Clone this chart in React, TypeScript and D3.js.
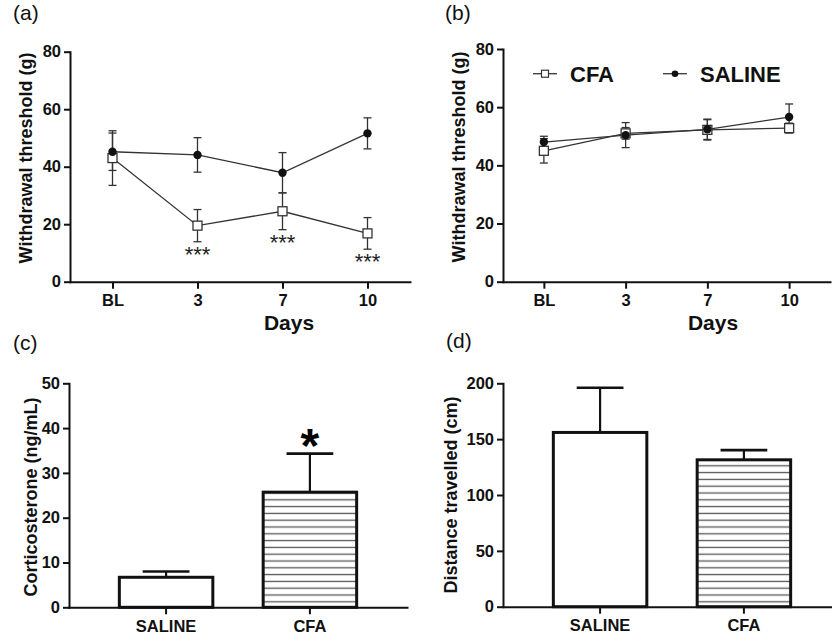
import React, { useEffect, useRef } from 'react';
import * as d3 from 'd3';

// time points for the von Frey panels
const days = ['BL', '3', '7', '10'];
const thresholdTicks = [0, 20, 40, 60, 80];

// panel (a)
const cfaThresholdA = [43, 19.5, 24.5, 16.8];
const cfaThresholdErrA = [9.5, 5.6, 6.4, 5.5];
const salineThresholdA = [45.2, 44.1, 37.9, 51.6];
const salineThresholdErrA = [6.5, 6, 7, 5.4];
const starsA = ['', '***', '***', '***'];

// panel (b)
const cfaThresholdB = [45, 51, 52.2, 52.8];
const cfaThresholdErrB = [4.2, 2, 3.5, 1.7];
const salineThresholdB = [48, 50.4, 52.4, 56.6];
const salineThresholdErrB = [2, 4.3, 3.5, 4.5];

// panels (c) and (d)
const groups = ['SALINE', 'CFA'];
const corticosterone = [6.7, 25.7];
const corticosteroneErr = [1.3, 8.6];
const corticosteroneStars = ['', '*'];
const corticosteroneTicks = [0, 10, 20, 30, 40, 50];
const distance = [156, 131.5];
const distanceErr = [40, 8.7];
const distanceTicks = [0, 50, 100, 150, 200];

const FONT = '"Liberation Sans", Arial, Helvetica, sans-serif';

const styleAxis = (g, fontSize = 16.5) => {
  g.attr('font-family', FONT).attr('font-size', fontSize).attr('font-weight', 'bold');
  g.select('.domain').attr('stroke', '#111').attr('stroke-width', 2).attr('stroke-linecap', 'square');
  g.selectAll('.tick line').attr('stroke', '#111').attr('stroke-width', 2);
  g.selectAll('.tick text').attr('fill', '#111');
};

const drawLinePanel = (svg, o) => {
  const y = d3.scaleLinear().domain([0, 80]).range([o.bottom, o.top]);
  const x = d3.scalePoint().domain(days).range([o.left, o.right]).padding(0.5);
  const g = svg.append('g');

  const series = [
    { mean: o.cfa, err: o.cfaErr, marker: 'square' },
    { mean: o.saline, err: o.salineErr, marker: 'circle' },
  ];

  const line = d3.line()
    .x((d, i) => x(days[i]))
    .y(d => y(d));

  series.forEach(s => {
    g.append('path')
      .datum(s.mean)
      .attr('fill', 'none')
      .attr('stroke', '#333')
      .attr('stroke-width', 1.3)
      .attr('d', line);
  });

  series.forEach(s => {
    s.mean.forEach((m, i) => {
      const cx = x(days[i]);
      const y1 = y(m + s.err[i]);
      const y2 = y(m - s.err[i]);
      g.append('line').attr('x1', cx).attr('x2', cx).attr('y1', y1).attr('y2', y2)
        .attr('stroke', '#333').attr('stroke-width', 1.3);
      [y1, y2].forEach(yy => {
        g.append('line').attr('x1', cx - 4).attr('x2', cx + 4).attr('y1', yy).attr('y2', yy)
          .attr('stroke', '#333').attr('stroke-width', 1.3);
      });
    });
  });

  series.forEach(s => {
    s.mean.forEach((m, i) => {
      const cx = x(days[i]);
      if (s.marker === 'circle') {
        g.append('circle').attr('cx', cx).attr('cy', y(m)).attr('r', 4.2).attr('fill', '#111');
      } else {
        g.append('rect').attr('x', cx - 4.5).attr('y', y(m) - 4.5).attr('width', 9).attr('height', 9)
          .attr('fill', 'white').attr('stroke', '#333').attr('stroke-width', 1.3);
      }
    });
  });

  if (o.stars) {
    o.stars.forEach((s, i) => {
      if (!s) return;
      const lo = Math.min(o.cfa[i] - o.cfaErr[i], o.saline[i] - o.salineErr[i]);
      g.append('text')
        .attr('x', x(days[i]))
        .attr('y', y(lo) + 20)
        .attr('text-anchor', 'middle')
        .attr('font-family', FONT)
        .attr('font-size', 22)
        .attr('fill', '#222')
        .text(s);
    });
  }

  g.append('g')
    .attr('transform', `translate(${o.left},0)`)
    .call(d3.axisLeft(y).tickValues(thresholdTicks).tickSize(6).tickPadding(3).tickSizeOuter(0))
    .call(a => styleAxis(a));

  g.append('g')
    .attr('transform', `translate(0,${o.bottom})`)
    .call(d3.axisBottom(x).tickSize(7).tickPadding(6).tickSizeOuter(0))
    .call(a => styleAxis(a));

  g.append('text')
    .attr('transform', `translate(${o.yLabelX},${o.yLabelY}) rotate(-90)`)
    .attr('text-anchor', 'middle')
    .attr('font-family', FONT).attr('font-size', 18).attr('font-weight', 'bold').attr('fill', '#111')
    .text('Withdrawal threshold (g)');

  g.append('text')
    .attr('x', o.daysX).attr('y', o.daysY)
    .attr('text-anchor', 'middle')
    .attr('font-family', FONT).attr('font-size', 21).attr('font-weight', 'bold').attr('fill', '#111')
    .text('Days');

  if (o.legend) {
    const ly = y(o.legendValue);
    const lg = g.append('g');
    const items = [
      { label: 'CFA', x0: o.legendX[0], marker: 'square' },
      { label: 'SALINE', x0: o.legendX[1], marker: 'circle' },
    ];
    items.forEach(it => {
      lg.append('line').attr('x1', it.x0).attr('x2', it.x0 + 24).attr('y1', ly).attr('y2', ly)
        .attr('stroke', '#333').attr('stroke-width', 1.3);
      if (it.marker === 'square') {
        lg.append('rect').attr('x', it.x0 + 12 - 3.5).attr('y', ly - 3.5).attr('width', 7).attr('height', 7)
          .attr('fill', 'white').attr('stroke', '#333').attr('stroke-width', 1.2);
      } else {
        lg.append('circle').attr('cx', it.x0 + 12).attr('cy', ly).attr('r', 3.3).attr('fill', '#111');
      }
      lg.append('text')
        .attr('x', it.x0 + 37).attr('y', ly + 8)
        .attr('font-family', FONT).attr('font-size', 22).attr('font-weight', 'bold').attr('fill', '#111')
        .text(it.label);
    });
  }
};

const drawBarPanel = (svg, o) => {
  const y = d3.scaleLinear().domain([0, o.ticks[o.ticks.length - 1]]).range([o.bottom, o.top]);
  const x = d3.scaleBand().domain(groups).range([o.left, o.right]).paddingInner(0.35).paddingOuter(0.35);
  const g = svg.append('g');
  const bw = x.bandwidth();

  o.values.forEach((v, i) => {
    const cx = x(groups[i]) + bw / 2;
    const top = y(v + o.errs[i]);
    g.append('line').attr('x1', cx).attr('x2', cx).attr('y1', y(v)).attr('y2', top)
      .attr('stroke', '#111').attr('stroke-width', 2.2);
    g.append('line').attr('x1', cx - bw / 4).attr('x2', cx + bw / 4).attr('y1', top).attr('y2', top)
      .attr('stroke', '#111').attr('stroke-width', 2.6);
  });

  g.selectAll('rect.bar')
    .data(o.values)
    .join('rect')
    .attr('class', 'bar')
    .attr('x', (d, i) => x(groups[i]))
    .attr('y', d => y(d))
    .attr('width', bw)
    .attr('height', d => o.bottom - y(d))
    .attr('fill', (d, i) => (i === 1 ? 'url(#hatch)' : 'white'))
    .attr('stroke', '#111')
    .attr('stroke-width', 3);

  if (o.stars) {
    o.stars.forEach((s, i) => {
      if (!s) return;
      g.append('text')
        .attr('x', x(groups[i]) + bw / 2)
        .attr('y', y(o.values[i] + o.errs[i]) + 8)
        .attr('text-anchor', 'middle')
        .attr('font-family', FONT).attr('font-size', 48).attr('font-weight', 'bold').attr('fill', '#000')
        .text(s);
    });
  }

  g.append('g')
    .attr('transform', `translate(${o.left},0)`)
    .call(d3.axisLeft(y).tickValues(o.ticks).tickSize(6).tickPadding(3).tickSizeOuter(0))
    .call(a => styleAxis(a));

  g.append('g')
    .attr('transform', `translate(0,${o.bottom})`)
    .call(d3.axisBottom(x).tickSize(7).tickPadding(6).tickSizeOuter(0))
    .call(a => styleAxis(a, 16.5));

  g.append('text')
    .attr('transform', `translate(${o.yLabelX},${o.yLabelY}) rotate(-90)`)
    .attr('text-anchor', 'middle')
    .attr('font-family', FONT).attr('font-size', 18).attr('font-weight', 'bold').attr('fill', '#111')
    .text(o.yLabel);
};

const App = () => {
  const svgRef = useRef(null);

  useEffect(() => {
    const svg = d3.select(svgRef.current);
    svg.selectAll('*').remove();

    // horizontal hatch for the CFA bars
    const pattern = svg.append('defs').append('pattern')
      .attr('id', 'hatch')
      .attr('patternUnits', 'userSpaceOnUse')
      .attr('width', 12)
      .attr('height', 6.8);
    pattern.append('rect').attr('width', 12).attr('height', 6.8).attr('fill', 'white');
    pattern.append('line').attr('x1', 0).attr('x2', 12).attr('y1', 3.4).attr('y2', 3.4)
      .attr('stroke', '#555').attr('stroke-width', 1.3);

    // panel letters
    [['(a)', 13, 20], ['(b)', 445, 20], ['(c)', 13, 350], ['(d)', 446, 348]].forEach(([t, px, py]) => {
      svg.append('text')
        .attr('x', px).attr('y', py)
        .attr('font-family', FONT).attr('font-size', 21).attr('fill', '#111')
        .text(t);
    });

    drawLinePanel(svg, {
      left: 70, right: 410, top: 51.7, bottom: 281.7,
      cfa: cfaThresholdA, cfaErr: cfaThresholdErrA,
      saline: salineThresholdA, salineErr: salineThresholdErrA,
      stars: starsA,
      yLabelX: 32, yLabelY: 158,
      daysX: 289, daysY: 330,
    });

    drawLinePanel(svg, {
      left: 503, right: 830, top: 49, bottom: 281.7,
      cfa: cfaThresholdB, cfaErr: cfaThresholdErrB,
      saline: salineThresholdB, salineErr: salineThresholdErrB,
      yLabelX: 465, yLabelY: 157,
      daysX: 713, daysY: 330,
      legend: true, legendValue: 71.5, legendX: [533, 663],
    });

    drawBarPanel(svg, {
      left: 69, right: 407, top: 383.3, bottom: 607.3,
      values: corticosterone, errs: corticosteroneErr, ticks: corticosteroneTicks,
      stars: corticosteroneStars,
      yLabel: 'Corticosterone (ng/mL)', yLabelX: 37, yLabelY: 497,
    });

    drawBarPanel(svg, {
      left: 503, right: 841, top: 383.3, bottom: 606.7,
      values: distance, errs: distanceErr, ticks: distanceTicks,
      yLabel: 'Distance travelled (cm)', yLabelX: 457, yLabelY: 495,
    });
  }, []);

  return (
    <svg
      ref={svgRef}
      width={832}
      height={638}
      style={{ position: 'absolute', left: 0, top: 0, background: 'white' }}
    />
  );
};

export default App;
